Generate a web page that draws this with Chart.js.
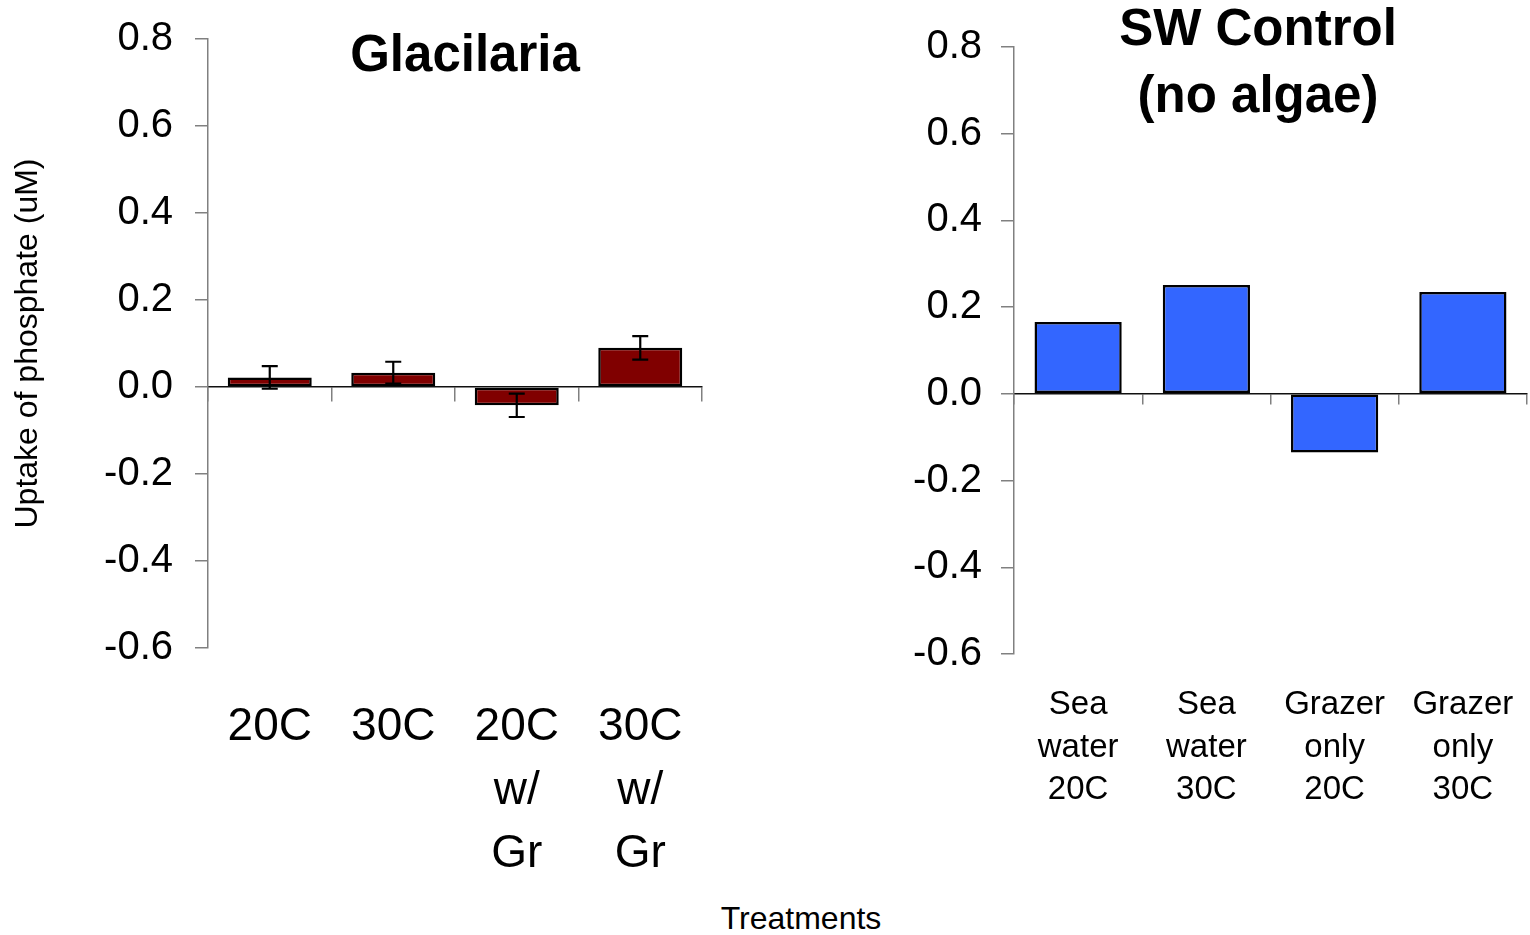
<!DOCTYPE html>
<html lang="en">

<head>
    <meta charset="UTF-8">
    <title>Phosphate uptake</title>
    <script src="https://cdn.jsdelivr.net/npm/chart.js@4.4.1/dist/chart.umd.min.js"></script>
    <style>
        body { margin: 0; background: #fff; font-family: "Liberation Sans", Arial, sans-serif; }
        .panel { position: absolute; top: 0; }
        #xTitle { position: absolute; left: 601px; top: 900px; width: 400px; text-align: center;
                  font-size: 32px; line-height: 36px; color: #000; }
    </style>
</head>

<body>
    <div class="panel" style="left:0; width:720px; height:880px;"><canvas id="glacChart"></canvas></div>
    <div class="panel" style="left:880px; width:650px; height:830px;"><canvas id="swChart"></canvas></div>
    <div id="xTitle">Treatments</div>

    <script>
        // uptake data (uM)
        const glacLabels = [['20C'], ['30C'], ['20C', 'w/', 'Gr'], ['30C', 'w/', 'Gr']];
        const glacUptake = [0.022, 0.033, -0.042, 0.090];
        const glacError = [0.026, 0.025, 0.027, 0.027];

        const swLabels = [['Sea', 'water', '20C'], ['Sea', 'water', '30C'], ['Grazer', 'only', '20C'], ['Grazer', 'only', '30C']];
        const swUptake = [0.166, 0.251, -0.135, 0.235];

        const yMin = -0.6, yMax = 0.8, yStep = 0.2;

        const FONT = "'Liberation Sans', Arial, sans-serif";

        // bold title text drawn over the plot
        const panelTitle = {
            id: 'panelTitle',
            afterDraw(chart, args, opts) {
                const ctx = chart.ctx;
                ctx.save();
                ctx.font = 'bold 51px ' + FONT;
                ctx.fillStyle = '#000';
                ctx.textAlign = 'center';
                ctx.textBaseline = 'middle';
                opts.lines.forEach((t, i) => ctx.fillText(t, opts.x, opts.y[i]));
                ctx.restore();
            }
        };

        // +/- error whiskers on the bars
        const errorBars = {
            id: 'errorBars',
            afterDatasetsDraw(chart, args, opts) {
                if (!opts.errors) return;
                const ctx = chart.ctx;
                const y = chart.scales.y;
                const meta = chart.getDatasetMeta(0);
                const vals = chart.data.datasets[0].data;
                ctx.save();
                ctx.strokeStyle = '#000';
                ctx.lineWidth = 2.2;
                meta.data.forEach((bar, i) => {
                    const top = y.getPixelForValue(vals[i] + opts.errors[i]);
                    const bot = y.getPixelForValue(vals[i] - opts.errors[i]);
                    ctx.beginPath();
                    ctx.moveTo(bar.x, top); ctx.lineTo(bar.x, bot);
                    ctx.moveTo(bar.x - 8, top); ctx.lineTo(bar.x + 8, top);
                    ctx.moveTo(bar.x - 8, bot); ctx.lineTo(bar.x + 8, bot);
                    ctx.stroke();
                });
                ctx.restore();
            }
        };

        function makeChart(id, cfg) {
            return new Chart(document.getElementById(id), {
                type: 'bar',
                data: {
                    labels: cfg.labels,
                    datasets: [{
                        data: cfg.values,
                        backgroundColor: cfg.color,
                        borderColor: '#000',
                        borderWidth: 2.5,
                        borderSkipped: false,
                        barPercentage: 0.68,
                        categoryPercentage: 1
                    }]
                },
                options: {
                    responsive: true,
                    maintainAspectRatio: false,
                    animation: false,
                    layout: { padding: { top: cfg.top, right: cfg.right, left: 0, bottom: 0 } },
                    plugins: {
                        legend: { display: false },
                        tooltip: { enabled: false },
                        panelTitle: cfg.title,
                        errorBars: { errors: cfg.errors }
                    },
                    scales: {
                        x: {
                            type: 'category',
                            position: { y: 0 },
                            offset: true,
                            ticks: { display: false },
                            grid: { offset: true, drawOnChartArea: false, tickLength: cfg.tickLen, color: '#808080', lineWidth: 1.5 },
                            border: { color: '#101010', width: 1.5 }
                        },
                        x2: {
                            type: 'category',
                            position: 'bottom',
                            offset: true,
                            grid: { display: false, drawTicks: false },
                            border: { display: false },
                            ticks: {
                                color: '#000',
                                maxRotation: 0,
                                autoSkip: false,
                                padding: cfg.labelPad,
                                font: { family: FONT, size: cfg.labelSize, lineHeight: cfg.labelLine }
                            },
                            afterFit: s => {
                                s.height = cfg.bottomH;
                                s.paddingLeft = 0;
                                s.paddingRight = 0;
                            }
                        },
                        y: {
                            min: yMin,
                            max: yMax,
                            ticks: {
                                stepSize: yStep,
                                color: '#000',
                                padding: cfg.tickPad,
                                font: { family: FONT, size: 40 },
                                callback: v => Number(v).toFixed(1)
                            },
                            grid: { drawOnChartArea: false, tickLength: 13, color: '#808080', lineWidth: 1.5 },
                            border: { color: '#808080', width: 1.5 },
                            title: cfg.yTitle,
                            afterFit: s => {
                                s.width = cfg.leftW;
                                s.paddingTop = 0;
                                s.paddingBottom = 0;
                            }
                        }
                    }
                },
                plugins: [panelTitle, errorBars]
            });
        }

        makeChart('glacChart', {
            labels: glacLabels,
            values: glacUptake,
            errors: glacError,
            color: '#800000',
            top: 39, right: 18, leftW: 208, bottomH: 232,
            tickLen: 14, tickPad: 22,
            labelSize: 46, labelLine: 63.5 / 46, labelPad: 48,
            title: { lines: ['Glacilaria'], x: 465, y: [57] },
            yTitle: {
                display: true,
                text: 'Uptake of phosphate (uM)',
                color: '#000',
                font: { family: FONT, size: 32 },
                padding: { top: 9, bottom: 0 }
            }
        });

        makeChart('swChart', {
            labels: swLabels,
            values: swUptake,
            errors: null,
            color: '#3366FF',
            top: 47, right: 3, leftW: 134, bottomH: 176,
            tickLen: 10, tickPad: 19,
            labelSize: 33, labelLine: 42.5 / 33, labelPad: 30,
            title: { lines: ['SW Control', '(no algae)'], x: 378, y: [31, 98] },
            yTitle: { display: false }
        });
    </script>
</body>

</html>
